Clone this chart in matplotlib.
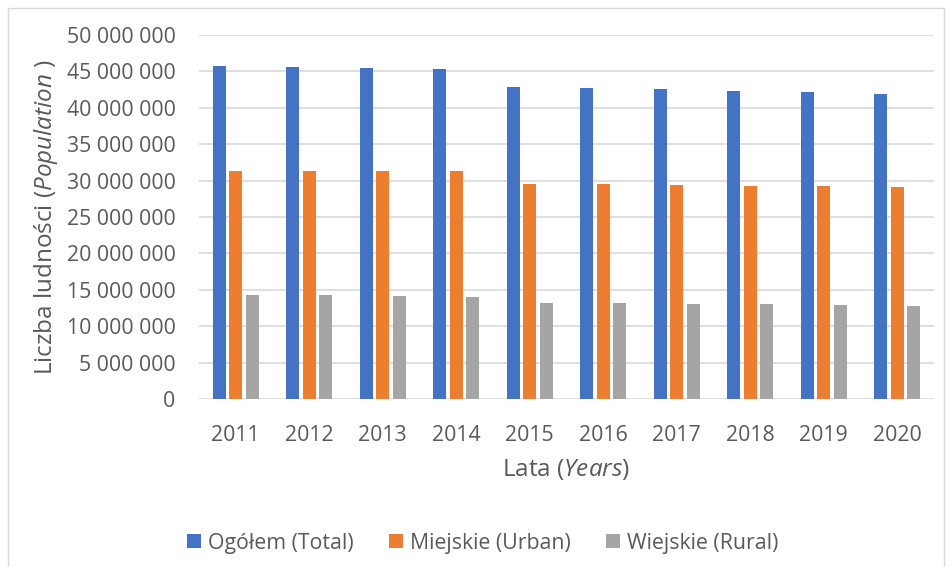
import numpy as np
import matplotlib.pyplot as plt
from matplotlib.patches import Rectangle
from matplotlib.ticker import FuncFormatter

plt.rcParams['font.family'] = ['Open Sans', 'DejaVu Sans']
plt.rcParams['mathtext.fontset'] = 'custom'
plt.rcParams['mathtext.rm'] = 'Open Sans'
plt.rcParams['mathtext.it'] = 'Open Sans:italic'

years = ['2011', '2012', '2013', '2014', '2015', '2016', '2017', '2018', '2019', '2020']
total = [45.70, 45.55, 45.46, 45.33, 42.80, 42.73, 42.55, 42.37, 42.14, 41.90]
urban = [31.36, 31.30, 31.30, 31.27, 29.60, 29.50, 29.40, 29.30, 29.20, 29.10]
rural = [14.28, 14.23, 14.14, 14.00, 13.20, 13.20, 13.10, 13.05, 12.90, 12.76]
series_names = ['Ogółem (Total)', 'Miejskie (Urban)', 'Wiejskie (Rural)']
colors = ['#4472C4', '#ED7D31', '#A5A5A5']
txt = '#595959'

fig = plt.figure(figsize=(9.52, 5.67), dpi=100)
ax = fig.add_axes([199 / 952, 1 - 399 / 567, 735 / 952, 364 / 567])

x = np.arange(len(years))
w = 0.178
gap = 0.045
for k, (vals, c, name) in enumerate(zip([total, urban, rural], colors, series_names)):
    ax.bar(x + (k - 1) * (w + gap), np.array(vals) * 1e6, width=w, color=c,
           label=name, zorder=3)

ax.set_xlim(-0.5, len(years) - 0.5)
ax.set_ylim(0, 50e6)
ax.set_yticks(np.arange(0, 50e6 + 1, 5e6))
ax.yaxis.set_major_formatter(FuncFormatter(lambda v, p: f'{int(v):,}'.replace(',', ' ')))
ax.set_xticks(x)
ax.set_xticklabels(years)
ax.grid(axis='y', color='#D9D9D9', linewidth=1.2, zorder=0)
for s in ax.spines.values():
    s.set_visible(False)
ax.tick_params(axis='both', length=0, colors=txt, labelsize=15.3)
ax.tick_params(axis='y', pad=17)
ax.tick_params(axis='x', pad=19)

ax.set_ylabel('Liczba ludności ($\\mathit{Population}$ )', fontsize=17.5, color=txt, labelpad=5)
ax.set_xlabel('Lata ($\\mathit{Years}$)', fontsize=17.5, color=txt, labelpad=8)

ax.legend(loc='center', bbox_to_anchor=(0.507, 1 - 543 / 567), bbox_transform=fig.transFigure,
          ncol=3, frameon=False, fontsize=15.3, labelcolor=txt, handlelength=0.65,
          handleheight=0.65, handletextpad=0.3, columnspacing=1.7)

fig.patches.append(Rectangle((8 / 952, -0.05), 936 / 952, 1.05 - 8 / 567,
                             transform=fig.transFigure, fill=False,
                             edgecolor='#D9D9D9', linewidth=1))

fig.savefig('out.png', dpi=100)
